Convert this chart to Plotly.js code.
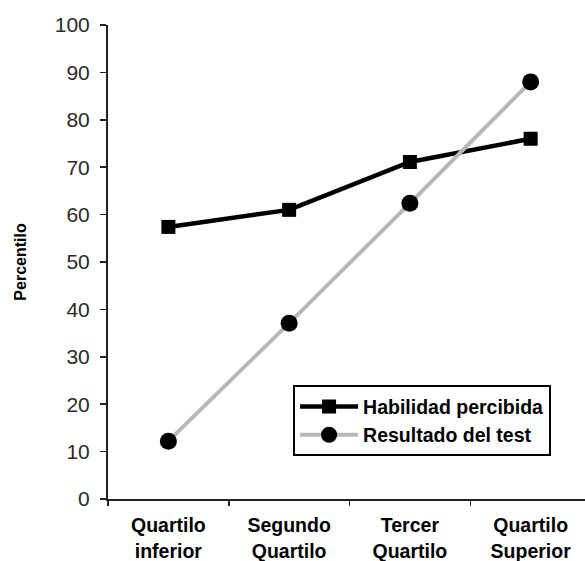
<!DOCTYPE html>
<html>
<head>
<meta charset="utf-8">
<script src="https://cdn.plot.ly/plotly-3.0.1.min.js"></script>
<style>html,body{margin:0;padding:0;background:#fff;}#chart{width:585px;height:561px;}</style>
</head>
<body>
<div id="chart"></div>
<script>
var categories = ["Quartilo<br>inferior", "Segundo<br>Quartilo", "Tercer<br>Quartilo", "Quartilo<br>Superior"];
var habilidad = [57.4, 61.0, 71.1, 76.0];
var resultado = [12.2, 37.1, 62.4, 88.0];
var yTicks = [0, 10, 20, 30, 40, 50, 60, 70, 80, 90, 100];

var traces = [
  {
    x: categories, y: habilidad, name: "Habilidad percibida",
    type: "scatter", mode: "lines+markers",
    line: {color: "#000", width: 4.5},
    marker: {symbol: "square", size: 14, color: "#000"}
  },
  {
    x: categories, y: resultado, name: "Resultado del test",
    type: "scatter", mode: "lines+markers",
    line: {color: "#b8b8b8", width: 4},
    marker: {symbol: "circle", size: 17, color: "#000"}
  }
];

var layout = {
  width: 585, height: 561,
  margin: {l: 108, r: 0, t: 25, b: 62},
  paper_bgcolor: "#fff", plot_bgcolor: "#fff",
  font: {family: "Liberation Sans, Arial, sans-serif", color: "#000"},
  showlegend: true,
  legend: {
    x: 0.388, y: 0.24, xanchor: "left", yanchor: "top",
    bordercolor: "#000", borderwidth: 2, bgcolor: "#fff",
    font: {size: 19.5, color: "#000", family: "Liberation Sans, Arial, sans-serif", weight: "bold"},
    itemwidth: 58, tracegroupgap: 0
  },
  xaxis: {
    type: "category",
    range: [-0.5, 3.45],
    showgrid: false, zeroline: false,
    showline: true, linecolor: "#222", linewidth: 2,
    ticks: "outside", tickson: "boundaries", ticklen: 5, tickcolor: "#222", tickwidth: 1.5,
    tickfont: {size: 19.5, color: "#000", weight: "bold"},
    ticklabelstandoff: 8,
    fixedrange: true
  },
  yaxis: {
    range: [0, 100],
    tickvals: yTicks,
    showgrid: false, zeroline: false,
    showline: true, linecolor: "#222", linewidth: 2,
    ticks: "outside", ticklen: 6, tickcolor: "#222", tickwidth: 1.5,
    tickfont: {size: 21, color: "#2a2a2a"},
    ticklabelstandoff: 6,
    title: {text: "Percentilo", font: {size: 16, color: "#000", weight: "bold"}, standoff: 24},
    automargin: false,
    fixedrange: true
  }
};

Plotly.newPlot("chart", traces, layout, {displayModeBar: false, staticPlot: true});
</script>
</body>
</html>
